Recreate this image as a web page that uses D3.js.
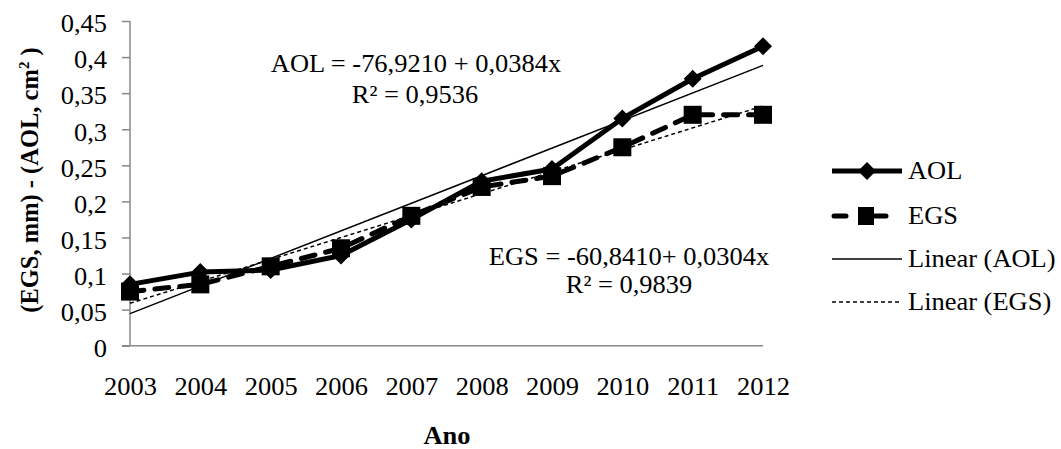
<!DOCTYPE html>
<html><head><meta charset="utf-8">
<script src="https://cdn.jsdelivr.net/npm/d3@7"></script>
<style>body{margin:0;background:#fff}svg{display:block}text{font-family:"Liberation Serif","Times New Roman",serif;fill:#000}</style>
</head><body><svg id="c" width="1061" height="449"></svg>
<script>
const years = [2003,2004,2005,2006,2007,2008,2009,2010,2011,2012];
const aol = [0.085,0.102,0.105,0.125,0.175,0.228,0.245,0.315,0.370,0.415];
const egs = [0.075,0.085,0.110,0.135,0.180,0.220,0.235,0.275,0.320,0.320];
const yTicks = [0,0.05,0.1,0.15,0.2,0.25,0.3,0.35,0.4,0.45];
const legendLabels = ["AOL","EGS","Linear (AOL)","Linear (EGS)"];

const SX = 1.08, FS = "24.5px";
const svg = d3.select("#c");
const x = d3.scalePoint().domain(years).range([130,763]);
const y = d3.scaleLinear().domain([0,0.45]).range([345.7,21]);
const fmt = v => String(v).replace(".", ",");

function txt(px, py, s, anchor, bold){
  return svg.append("text").attr("transform",`translate(${px},${py}) scale(${SX},1)`)
    .attr("text-anchor",anchor||"start").style("font-size",FS).style("font-weight",bold?"bold":"normal").text(s);
}

// y axis
const ya = svg.append("g").attr("transform","translate(130,0)")
  .call(d3.axisLeft(y).tickValues(yTicks).tickSize(8).tickFormat(fmt));
ya.select(".domain").attr("stroke","#888").attr("stroke-width",1.5).attr("d","M0,21V345.7");
ya.selectAll(".tick line").attr("stroke","#888").attr("stroke-width",1.5);
ya.selectAll(".tick text").style("font-size",FS).attr("x",-23/SX).attr("dy","0.44em").attr("transform",`scale(${SX},1)`);

// x axis
const xa = svg.append("g").attr("transform","translate(0,345.7)")
  .call(d3.axisBottom(x).tickSize(0));
xa.select(".domain").attr("stroke","#888").attr("stroke-width",1.5).attr("d","M122,0H763");
xa.selectAll(".tick text").style("font-size",FS).attr("y",49).attr("dy","0").attr("transform",`scale(${SX},1)`);

// regression trendlines computed from the data
function fit(vals){
  const mx = d3.mean(years), my = d3.mean(vals);
  const b = d3.sum(years.map((xv,i)=>(xv-mx)*(vals[i]-my))) / d3.sum(years.map(xv=>(xv-mx)**2));
  const a = my - b*mx;
  return [years[0], years[years.length-1]].map(xv=>[xv, a+b*xv]);
}
const line = d3.line().x(d=>x(d[0])).y(d=>y(d[1]));
svg.append("path").attr("d",line(fit(aol))).attr("fill","none").attr("stroke","#000").attr("stroke-width",1.5);
svg.append("path").attr("d",line(fit(egs))).attr("fill","none").attr("stroke","#000").attr("stroke-width",1.5).attr("stroke-dasharray","4,3");

// series
const ptsA = years.map((yr,i)=>[yr,aol[i]]);
const ptsE = years.map((yr,i)=>[yr,egs[i]]);
svg.append("path").attr("d",line(ptsE)).attr("fill","none").attr("stroke","#000").attr("stroke-width",5).attr("stroke-dasharray","14,11").attr("stroke-linecap","round");
svg.append("path").attr("d",line(ptsA)).attr("fill","none").attr("stroke","#000").attr("stroke-width",5).attr("stroke-linejoin","round");
svg.selectAll(".sq").data(ptsE).enter().append("rect")
  .attr("x",d=>x(d[0])-9).attr("y",d=>y(d[1])-9).attr("width",18).attr("height",18).attr("fill","#000");
svg.selectAll(".dm").data(ptsA).enter().append("path")
  .attr("d","M0,-9L9,0L0,9L-9,0Z").attr("transform",d=>`translate(${x(d[0])},${y(d[1])})`).attr("fill","#000");

// equations
txt(416,72,"AOL = -76,9210 + 0,0384x","middle");
txt(415,103,"R² = 0,9536","middle");
txt(629,265,"EGS = -60,8410+ 0,0304x","middle");
txt(629,293,"R² = 0,9839","middle");

// axis titles
txt(447,444,"Ano","middle",true);
const yt = svg.append("text").attr("transform","translate(38,180) rotate(-90)").attr("text-anchor","middle").style("font-size",FS).style("font-weight","bold");
yt.append("tspan").text("(EGS, mm) - (AOL, cm");
yt.append("tspan").attr("dy",-9).style("font-size","15px").text("2");
yt.append("tspan").attr("dy",9).text(" )");

// legend
const ly = [171,216,259,302];
const lg = svg.append("g");
lg.append("line").attr("x1",832).attr("x2",902).attr("y1",ly[0]).attr("y2",ly[0]).attr("stroke","#000").attr("stroke-width",5);
lg.append("path").attr("d","M0,-9L9,0L0,9L-9,0Z").attr("transform",`translate(867,${ly[0]})`);
lg.append("line").attr("x1",834).attr("x2",846).attr("y1",ly[1]).attr("y2",ly[1]).attr("stroke","#000").attr("stroke-width",5).attr("stroke-linecap","round");
lg.append("line").attr("x1",870).attr("x2",886).attr("y1",ly[1]).attr("y2",ly[1]).attr("stroke","#000").attr("stroke-width",5).attr("stroke-linecap","round");
lg.append("rect").attr("x",858).attr("y",ly[1]-9).attr("width",16).attr("height",18);
lg.append("line").attr("x1",832).attr("x2",902).attr("y1",ly[2]).attr("y2",ly[2]).attr("stroke","#000").attr("stroke-width",1.5);
lg.append("line").attr("x1",832).attr("x2",902).attr("y1",ly[3]).attr("y2",ly[3]).attr("stroke","#000").attr("stroke-width",1.5).attr("stroke-dasharray","4,3");
legendLabels.forEach((d,i)=>{ txt(908, ly[i]+8, d, "start"); });
</script></body></html>
